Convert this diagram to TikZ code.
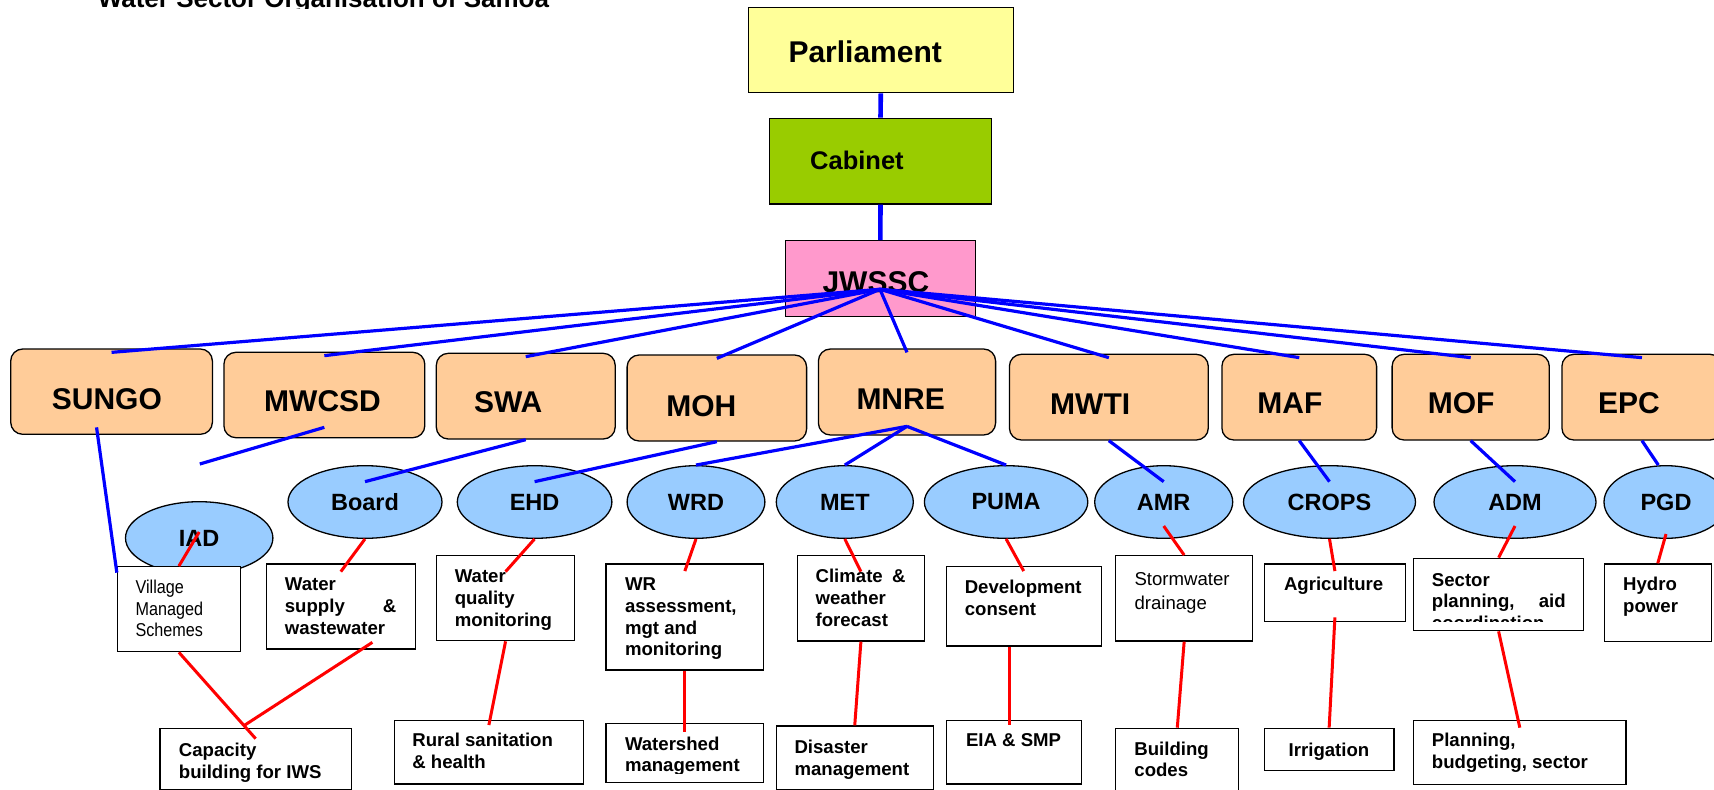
\documentclass[tikz,border=0pt]{standalone}
\usepackage{fontspec}
\setmainfont{Liberation Sans}
\newfontfamily\narrowfont[FakeStretch=0.87]{Liberation Sans}
\usetikzlibrary{fit,calc,shapes.geometric}
\definecolor{parlc}{HTML}{FFFF99}
\definecolor{cabc}{HTML}{99CC00}
\definecolor{jwc}{HTML}{FF99CC}
\definecolor{orgc}{HTML}{FFCC99}
\definecolor{ellc}{HTML}{99CCFF}
\newcommand\ml[1]{\parbox[t]{300pt}{\raggedright #1}}
\tikzset{
 topbox/.style={draw=black, line width=1.3pt, inner sep=0pt},
 tierbox/.style={draw=black, line width=1.3pt, fill=orgc, rounded corners=12pt, inner sep=0pt},
 unit/.style={ellipse, draw=black, line width=1.3pt, fill=ellc, inner sep=0pt, font=\fontsize{23.5}{28}\selectfont\bfseries},
 wbox/.style={draw=black, line width=1.3pt, fill=white, inner sep=0pt},
 bigtxt/.style={anchor=base west, inner sep=0pt, font=\fontsize{30}{36}\selectfont\bfseries},
 txt/.style={anchor=base west, inner sep=0pt, font=\fontsize{18.6}{21.7}\selectfont\bfseries},
 ntxt/.style={anchor=base west, inner sep=0pt, font=\fontsize{18.6}{21.7}\selectfont\narrowfont},
 rtxt/.style={anchor=base west, inner sep=0pt, font=\fontsize{18.6}{24.3}\selectfont},
 blueln/.style={draw=blue, line width=3.2pt},
 vline/.style={draw=blue, line width=4.6pt},
 redln/.style={draw=red, line width=3pt},
}
\begin{document}
\begin{tikzpicture}[x=1pt,y=-1pt]
\useasboundingbox (0,0) rectangle (1714,790);
\fill[white] (0,0) rectangle (1714,790);
\clip (0,0) rectangle (1714,790);

% title (cut at the page top and just below its baseline)
\begin{scope}
\clip (0,0) rectangle (1714,8.5);
\node[anchor=base west, inner sep=0pt, font=\fontsize{26}{30}\selectfont\bfseries] (title) at (97.6,7) {Water Sector Organisation of Samoa};
\end{scope}

% top chain
\node[topbox, fill=parlc, fit={(748.3,7.3) (1013.3,92.7)}] (parl) {};
\node[bigtxt] (parlt) at (788.3,62.3) {Parliament};
\node[topbox, fill=cabc, fit={(769.3,118.3) (991.7,204)}] (cab) {};
\node[anchor=base west, inner sep=0pt, font=\fontsize{25.5}{30}\selectfont\bfseries] (cabt) at (810,169) {Cabinet};
\node[topbox, fill=jwc, fit={(785.3,240.7) (975.3,316.7)}] (jw) {};
\node[bigtxt] (jwt) at (822.3,292.7) {JWSSC};
\draw[vline] (parl.south) -- (cab.north);
\draw[vline] (cab.south) -- (jw.north);
\coordinate (fan) at (880,289.3);

% tier boxes
\node[tierbox, fit={(10.7,349) (212.4,434.3)}] (sungo) {};
\node[tierbox, fit={(223.9,352.3) (424.8,437.7)}] (mwcsd) {};
\node[tierbox, fit={(436.3,353.3) (615.2,439)}] (swa) {};
\node[tierbox, fit={(627.1,355) (806.6,441)}] (moh) {};
\node[tierbox, fit={(818.4,349) (995.6,435)}] (mnre) {};
\node[tierbox, fit={(1009.4,354.3) (1208.3,440)}] (mwti) {};
\node[tierbox, fit={(1221.9,354.3) (1376.6,440)}] (maf) {};
\node[tierbox, fit={(1392.1,354.3) (1549.3,440)}] (mof) {};
\node[tierbox, fit={(1561.9,354.3) (1722,440)}] (epc) {};
\node[bigtxt] (sungot) at (51.7,409) {SUNGO};
\node[bigtxt] (mwcsdt) at (264,411.7) {MWCSD};
\node[bigtxt] (swat) at (473.8,412.7) {SWA};
\node[bigtxt] (moht) at (666.1,416) {MOH};
\node[bigtxt] (mnret) at (856.3,409.3) {MNRE};
\node[bigtxt] (mwtit) at (1050,414.3) {MWTI};
\node[bigtxt] (maft) at (1257.2,413.3) {MAF};
\node[bigtxt] (moft) at (1427.7,413.3) {MOF};
\node[bigtxt] (epct) at (1597.8,413.3) {EPC};

% fan from JWSSC
\foreach \n in {sungo,mwcsd,swa,moh,mnre,mwti,maf,mof,epc}
  \draw[blueln] (fan) -- ([yshift=-4pt]\n.north);

% ellipses
\node[unit, minimum width=147.4pt, minimum height=72.6pt] (iad) at (199.2,538) {IAD};
\node[unit, minimum width=154pt, minimum height=72.6pt] (board) at (365,502) {\raisebox{-7pt}{Board}};
\node[unit, minimum width=154.6pt, minimum height=72.6pt] (ehd) at (534.6,502) {EHD};
\node[unit, minimum width=137.8pt, minimum height=72.6pt] (wrd) at (696,502) {WRD};
\node[unit, minimum width=137pt, minimum height=72.6pt] (met) at (844.8,502) {MET};
\node[unit, minimum width=163.4pt, minimum height=72.6pt] (puma) at (1006.1,502) {PUMA};
\node[unit, minimum width=138pt, minimum height=72.6pt] (amr) at (1163.7,502) {AMR};
\node[unit, minimum width=172pt, minimum height=72.6pt] (crops) at (1329.5,502) {CROPS};
\node[unit, minimum width=162pt, minimum height=72.6pt] (adm) at (1515,502) {ADM};
\node[unit, minimum width=124pt, minimum height=72.6pt] (pgd) at (1666,502) {PGD};

% blue tier -> unit connectors
\coordinate (mwfree) at (199.8,464);
\coordinate (mfork) at ([yshift=9.3pt]mnre.south);
\draw[blueln] ([yshift=11pt]mwcsd.south) -- (mwfree);
\draw[blueln] (swa.south) -- ([yshift=-16.6pt]board.north);
\draw[blueln] (moh.south) -- ([yshift=-16.6pt]ehd.north);
\draw[blueln] (mfork) -- (wrd.north);
\draw[blueln] (mfork) -- (met.north);
\draw[blueln] (mfork) -- (puma.north);
\draw[blueln] (mwti.south) -- ([yshift=-16.6pt]amr.north);
\draw[blueln] (maf.south) -- ([yshift=-16.6pt]crops.north);
\draw[blueln] (mof.south) -- ([yshift=-16.6pt]adm.north);
\draw[blueln] (epc.south) -- ([xshift=-7.7pt]pgd.north);

% third row boxes
\node[wbox, fit={(117.5,566.7) (240.3,651.7)}] (village) {};
\node[ntxt] (villaget) at (135.4,593.3) {\ml{Village\\Managed\\Schemes}};
\node[wbox, fit={(266.4,564) (415.2,649)}] (wsup) {};
\node[txt] (wsupt) at (284.7,590.7) {\ml{Water\\\makebox[111.3pt][s]{supply \&}\\wastewater}};
\node[wbox, fit={(436.3,555.7) (574.8,640.7)}] (wqual) {};
\node[txt] (wqualt) at (454.6,582.7) {\ml{Water\\quality\\monitoring}};
\node[wbox, fit={(606,564) (763.7,670)}] (wr) {};
\node[txt] (wrt) at (624.8,590.7) {\ml{WR\\assessment,\\mgt and\\monitoring}};
\node[wbox, fit={(797.4,555.7) (924.4,641)}] (clim) {};
\node[txt] (climt) at (815.4,582.7) {\ml{\makebox[89.9pt][s]{Climate \&}\\weather\\forecast}};
\node[wbox, fit={(946.2,566.7) (1101.2,646)}] (dev) {};
\node[txt] (devt) at (964.6,593.3) {\ml{Development\\consent}};
\node[wbox, fit={(1115.8,555.7) (1252.5,641)}] (storm) {};
\node[rtxt] (stormt) at (1134.3,585) {\ml{Stormwater\\drainage}};
\node[wbox, fit={(1264.4,564) (1405.4,621.7)}] (agri) {};
\node[txt] (agrit) at (1283.8,590.7) {Agriculture};
\node[wbox, fit={(1413.7,558.3) (1583.5,630.7)}] (sect) {};
\begin{scope}
\clip (1413.7,558.3) rectangle (1583.5,621);
\node[txt] (sectt) at (1431.7,586) {\ml{Sector\\\makebox[133.8pt][s]{planning, aid}\\coordination}};
\end{scope}
\node[wbox, fit={(1604.3,564) (1711.2,641.7)}] (hydro) {};
\node[txt] (hydrot) at (1623,590.7) {\ml{Hydro\\power}};

% bottom row boxes
\node[wbox, fit={(160,728.7) (351.3,789.3)}] (cap) {};
\node[txt] (capt) at (178.7,756.7) {\ml{Capacity\\building for IWS}};
\node[wbox, fit={(394.2,720.3) (583.6,784)}] (rural) {};
\node[txt] (ruralt) at (412.2,746.7) {\ml{Rural sanitation\\\& health}};
\node[wbox, fit={(606,723.3) (763.7,782.7)}] (wshed) {};
\begin{scope}
\clip (606,723.3) rectangle (763.7,773);
\node[txt] (wshedt) at (624.8,750) {\ml{Watershed\\management}};
\end{scope}
\node[wbox, fit={(776.3,726) (933.2,789.3)}] (dis) {};
\node[txt] (dist) at (794.3,753.3) {\ml{Disaster\\management}};
\node[wbox, fit={(946.2,720.3) (1081.3,784)}] (eia) {};
\node[txt] (eiat) at (965.8,746.7) {EIA \& SMP};
\node[wbox, fit={(1115.8,728.3) (1238.8,800)}] (build) {};
\node[txt] (buildt) at (1134.2,755) {\ml{Building\\codes}};
\node[wbox, fit={(1264.4,728.3) (1393.9,770.7)}] (irr) {};
\node[txt] (irrt) at (1288.5,756.7) {Irrigation};
\node[wbox, fit={(1413.7,720.7) (1625.9,784.3)}] (plan) {};
\node[txt] (plant) at (1431.7,746.7) {\ml{Planning,\\budgeting, sector}};

% SUNGO line to village
\draw[blueln] ([xshift=-15pt,yshift=7.6pt]sungo.south) -- ([yshift=-6.6pt]village.north west);

% red connectors
\draw[redln] ([yshift=6pt]iad.center) -- (village.north);
\draw[redln] (board.south) -- ([yshift=-8.3pt]wsup.north);
\draw[redln] (ehd.south) -- ([yshift=-16.6pt]wqual.north);
\draw[redln] (wrd.south) -- ([yshift=-7.7pt]wr.north);
\draw[redln] (met.south) -- ([yshift=-16.6pt]clim.north);
\draw[redln] (puma.south) -- ([yshift=-5pt]dev.north);
\draw[redln] ([yshift=-24pt]amr.center) -- (storm.north);
\draw[redln] (crops.south) -- ([yshift=-7.7pt]agri.north);
\draw[redln] ([yshift=-24pt]adm.center) -- (sect.north);
\draw[redln] ([yshift=-32pt]pgd.center) -- (hydro.north);
\draw[redln] (village.south) -- ([yshift=-10.6pt]cap.north);
\draw[redln] ([xshift=31.6pt,yshift=7.3pt]wsup.south) -- ([xshift=-10.8pt,yshift=3pt]cap.north);
\draw[redln] (wqual.south) -- ([yshift=-5.4pt]rural.north);
\draw[redln] (wr.south) -- ([yshift=-9.4pt]wshed.north);
\draw[redln] (clim.south) -- (dis.north);
\draw[redln] ([xshift=-4pt]eia.north |- dev.south) -- ([xshift=-4pt,yshift=-5.4pt]eia.north);
\draw[redln] (storm.south) -- (build.north);
\draw[redln] ([yshift=5pt]agri.south) -- (irr.north);
\draw[redln] (sect.south) -- ([yshift=-7.6pt]plan.north);
\end{tikzpicture}
\end{document}
